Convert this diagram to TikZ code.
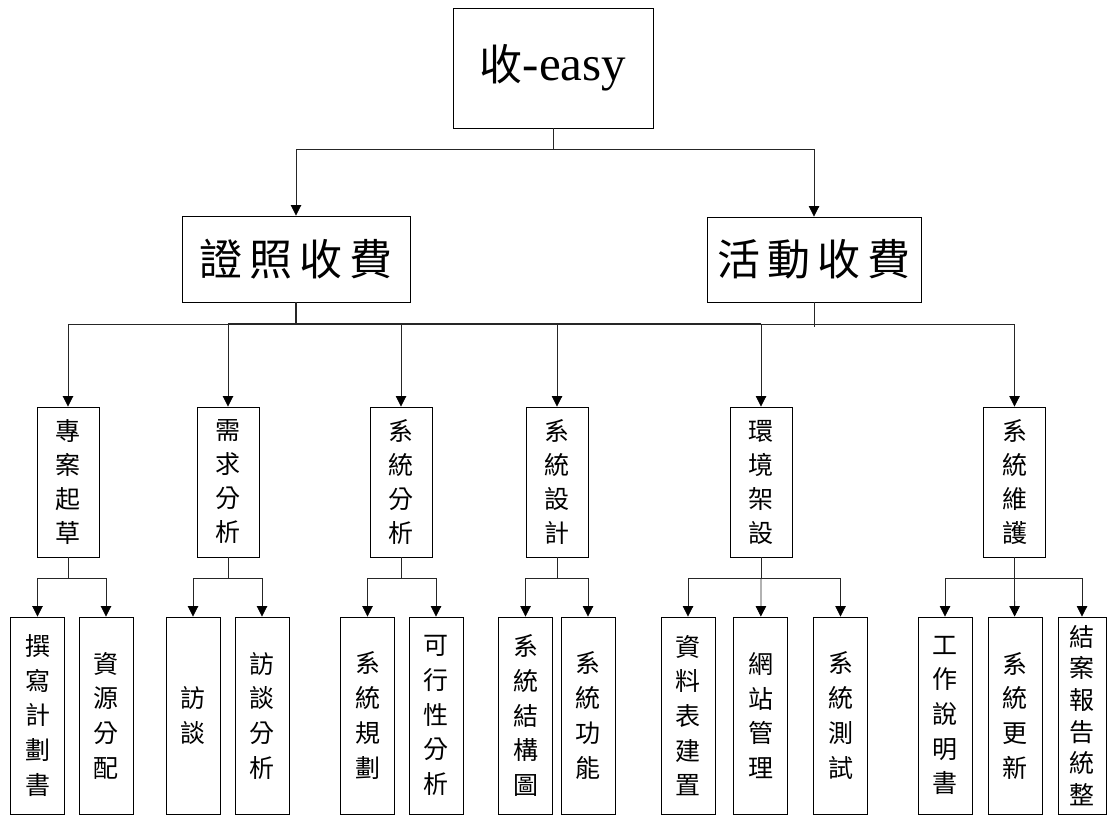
\documentclass[tikz,border=0pt]{standalone}
\usepackage{fontspec}
\setmainfont{Liberation Serif}
\newfontfamily\cjk{Noto Sans CJK TC}
\usetikzlibrary{arrows.meta}
\tikzset{
  box/.style={draw=black, line width=0.9pt, rectangle, inner sep=0pt, align=center},
  bigbox/.style={box, font=\cjk\fontsize{43}{50}\selectfont},
  vbox/.style={box, font=\cjk\fontsize{25}{34}\selectfont, minimum width=62pt, minimum height=150pt},
  leaf/.style={box, font=\cjk\fontsize{25}{34.7}\selectfont, minimum width=54pt, minimum height=197pt},
  conn/.style={draw=black!85, line width=0.8pt},
  arr/.style={conn, -{Triangle[width=10.5pt,length=10.5pt,color=black,fill=black]}},
}
\begin{document}
\begin{tikzpicture}[x=1pt,y=-1pt]
\useasboundingbox (0,0) rectangle (1107,815);
% level 0
\node[box, minimum width=200pt, minimum height=120pt] (t) at (553,68)
  {{\cjk\fontsize{43}{50}\selectfont 收}{\fontsize{49}{50}\selectfont -easy}};
% level 1
\node[bigbox, minimum width=228pt, minimum height=86pt] (l1) at (296,259)
  {證\hspace{7pt}照\hspace{7pt}收\hspace{7pt}費};
\node[bigbox, minimum width=214pt, minimum height=85pt] (l2) at (814,259.5)
  {活\hspace{7pt}動\hspace{7pt}收\hspace{7pt}費};
% level 2
\node[vbox] (pa) at (68,482) {專\\案\\起\\草};
\node[vbox] (pb) at (228,482) {需\\求\\分\\析};
\node[vbox] (pc) at (401,482) {系\\統\\分\\析};
\node[vbox] (pd) at (557,482) {系\\統\\設\\計};
\node[vbox] (pe) at (761,482) {環\\境\\架\\設};
\node[vbox] (pf) at (1014.5,482) {系\\統\\維\\護};
% level 3
\node[leaf] (a1) at (37.5,715.5) {撰\\寫\\計\\劃\\書};
\node[leaf] (a2) at (106,715.5) {資\\源\\分\\配};
\node[leaf] (b1) at (193,715.5) {訪\\談};
\node[leaf] (b2) at (262,715.5) {訪\\談\\分\\析};
\node[leaf] (c1) at (367.5,715.5) {系\\統\\規\\劃};
\node[leaf] (c2) at (436,715.5) {可\\行\\性\\分\\析};
\node[leaf] (d1) at (525.5,715.5) {系\\統\\結\\構\\圖};
\node[leaf] (d2) at (588,715.5) {系\\統\\功\\能};
\node[leaf] (e1) at (688,715.5) {資\\料\\表\\建\\置};
\node[leaf] (e2) at (760.5,715.5) {網\\站\\管\\理};
\node[leaf] (e3) at (840.5,715.5) {系\\統\\測\\試};
\node[leaf] (f1) at (945,715.5) {工\\作\\說\\明\\書};
\node[leaf] (f2) at (1015,715.5) {系\\統\\更\\新};
\node[leaf, minimum width=48pt, font=\cjk\fontsize{25}{31.6}\selectfont] (f3) at (1082,715.5) {結\\案\\報\\告\\統\\整};
% junctions
\coordinate (j0) at (553,149);
\coordinate (j1) at (296,324);
\coordinate (j2) at (814,327);
\coordinate (ja) at (68,578);
\coordinate (jb) at (228,578);
\coordinate (jc) at (401,578);
\coordinate (jd) at (557,578);
\coordinate (je) at (761,578);
\coordinate (jf) at (1014.5,578);
% level 0 -> 1
\draw[conn] (t) -- (j0);
\draw[arr] (j0) -| (l1);
\draw[arr] (j0) -| (l2);
% level 1 -> 2
\draw[conn, line width=1.6pt] (l1) -- (j1);
\draw[conn] (l2) -- (j2);
\draw[conn, line width=1.6pt] (pb |- j1) -- (pe |- j1);
\foreach \n in {pa,pb,pc,pd,pe,pf} { \draw[arr] (j1) -| (\n); }
% level 2 -> 3
\draw[conn] (pa) -- (ja);
\draw[arr] (ja) -| (a1); \draw[arr] (ja) -| (a2);
\draw[conn] (pb) -- (jb);
\draw[arr] (jb) -| (b1); \draw[arr] (jb) -| (b2);
\draw[conn] (pc) -- (jc);
\draw[arr] (jc) -| (c1); \draw[arr] (jc) -| (c2);
\draw[conn] (pd) -- (jd);
\draw[arr] (jd) -| (d1); \draw[arr] (jd) -| (d2);
\draw[conn] (pe) -- (je);
\draw[arr] (je) -| (e1); \draw[arr] (je) -- (e2); \draw[arr] (je) -| (e3);
\draw[conn] (pf) -- (jf);
\draw[arr] (jf) -| (f1); \draw[arr] (jf) -- (f2); \draw[arr] (jf) -| (f3);
\end{tikzpicture}
\end{document}
